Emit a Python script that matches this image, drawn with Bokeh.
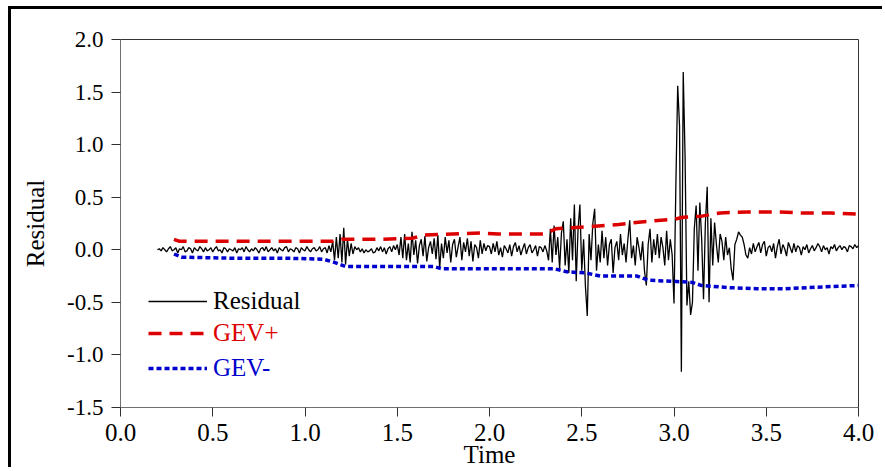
import numpy as np
from bokeh.plotting import figure
from bokeh.models import Legend, LegendItem, FixedTicker, Range1d
from bokeh.embed import file_html
from bokeh.resources import INLINE

# ---------------- data ----------------
res_start, res_end = 0.20, 4.00
residual = [
    0.00, 0.01, -0.01, 0.02, 0.00, -0.02, 0.01, 0.03, -0.01, 0.00,     # 0.20
    0.02, -0.03, 0.01, 0.00, 0.03, -0.02, -0.01, 0.02, 0.01, -0.03,    # 0.30
    0.02, 0.00, -0.01, 0.03, 0.01, -0.02, 0.02, -0.01, 0.00, 0.02,     # 0.40
    -0.02, 0.01, 0.03, -0.01, 0.00, -0.03, 0.02, 0.01, -0.02, 0.01,    # 0.50
    0.00, -0.01, 0.02, -0.03, 0.01, 0.00, 0.02, -0.02, 0.03, 0.00,     # 0.60
    -0.02, 0.01, -0.01, 0.02, 0.00, -0.03, 0.01, 0.02, -0.01, 0.03,    # 0.70
    -0.02, 0.00, 0.02, -0.01, 0.01, -0.03, 0.02, 0.00, -0.01, 0.02,    # 0.80
    0.03, -0.02, 0.01, 0.00, -0.02, 0.02, 0.01, -0.03, 0.02, 0.00,     # 0.90
    -0.01, 0.03, 0.00, -0.02, 0.01, 0.02, -0.01, 0.00, 0.03, -0.02,    # 1.00
    0.01, 0.02, -0.03, 0.04, -0.02, 0.08, -0.10, 0.12, -0.08, 0.15,    # 1.10
    -0.12, 0.21, -0.14, 0.10, -0.06, 0.06, -0.04, 0.03, 0.00, 0.02,    # 1.20
    -0.02, 0.01, -0.03, 0.00, -0.02, -0.01, 0.01, -0.03, -0.02, 0.02,  # 1.30
    -0.01, 0.03, -0.02, 0.02, -0.04, 0.01, 0.03, -0.02, 0.04, 0.00,    # 1.40
    0.05, -0.05, 0.12, -0.08, 0.15, -0.10, 0.06, -0.12, 0.17, -0.05,   # 1.50
    0.09, -0.13, 0.04, 0.10, -0.06, 0.13, -0.11, 0.02, 0.08, -0.04,    # 1.60
    0.11, -0.09, 0.14, -0.17, 0.06, -0.08, 0.12, -0.03, 0.09, -0.12,   # 1.70
    0.05, 0.10, -0.07, 0.03, 0.12, -0.10, 0.07, -0.02, 0.11, -0.06,    # 1.80
    0.08, -0.11, 0.05, 0.02, -0.08, 0.09, -0.04, 0.06, -0.01, 0.04,    # 1.90
    0.03, -0.04, 0.06, -0.02, 0.08, -0.05, 0.02, -0.07, 0.04, 0.01,    # 2.00
    -0.03, 0.05, -0.06, 0.03, 0.07, -0.02, 0.04, -0.05, 0.01, 0.06,    # 2.10
    -0.04, 0.02, 0.05, -0.03, 0.00, 0.04, -0.06, 0.03, 0.02, -0.02,    # 2.20
    0.04, -0.01, -0.10, 0.20, -0.12, 0.23, -0.05, 0.12, -0.18, 0.16,   # 2.30
    0.27, -0.15, 0.10, -0.22, 0.30, -0.10, 0.43, -0.30, 0.20, 0.43,    # 2.40
    -0.20, 0.10, -0.35, -0.63, 0.15, -0.10, 0.25, 0.39, -0.20, 0.05,   # 2.50
    -0.12, 0.18, -0.08, 0.12, -0.15, 0.05, 0.10, -0.22, 0.02, 0.08,    # 2.60
    -0.10, 0.15, -0.05, 0.06, -0.12, 0.10, 0.28, -0.08, 0.04, -0.15,   # 2.70
    0.12, 0.02, -0.10, 0.08, -0.20, -0.34, 0.05, 0.20, -0.12, 0.10,    # 2.80
    -0.05, 0.15, -0.08, 0.12, 0.02, -0.15, 0.18, -0.10, 0.10, -0.05,   # 2.90
    -0.51, 0.60, 1.56, 1.18, -1.16, 1.69, 0.89, -0.53, -0.30, -0.62,   # 3.00
    -0.50, 0.20, 0.42, -0.20, 0.45, 0.10, -0.47, 0.25, 0.60, -0.50,    # 3.10
    0.30, -0.15, 0.26, 0.05, -0.12, 0.15, 0.08, -0.10, 0.12, -0.05,    # 3.20
    0.02, -0.18, -0.29, 0.05, 0.10, 0.17, 0.14, 0.12, 0.05, -0.05,     # 3.30
    -0.08, 0.02, -0.04, 0.06, -0.02, 0.03, 0.07, -0.03, 0.05, 0.08,    # 3.40
    -0.06, 0.02, 0.04, -0.02, 0.06, -0.08, 0.03, 0.10, -0.04, 0.05,    # 3.50
    0.01, -0.06, 0.07, 0.02, -0.03, 0.06, -0.02, 0.04, 0.02, -0.05,    # 3.60
    0.03, 0.00, 0.05, -0.03, 0.01, 0.04, -0.01, 0.02, 0.06, 0.03,      # 3.70
    -0.02, 0.04, 0.00, 0.02, -0.04, 0.03, 0.01, 0.05, -0.01, 0.02,     # 3.80
    0.04, 0.00, 0.03, 0.02, -0.02, 0.04, 0.03, 0.01, 0.05, 0.02,       # 3.90
    0.04,                                                              # 4.00
]

gev_plus_time = [0.29, 0.32, 0.60, 0.90, 1.15, 1.20, 1.40, 1.58, 1.65, 1.80,
                 1.95, 2.05, 2.30, 2.36, 2.45, 2.55, 2.70, 2.85, 3.00, 3.05,
                 3.15, 3.25, 3.40, 3.55, 3.70, 3.85, 4.00]
gev_plus = [0.10, 0.08, 0.08, 0.08, 0.08, 0.10, 0.10, 0.11, 0.14, 0.15,
            0.16, 0.15, 0.15, 0.20, 0.21, 0.22, 0.24, 0.27, 0.29, 0.31,
            0.32, 0.35, 0.36, 0.36, 0.35, 0.35, 0.34]

gev_minus_time = [0.29, 0.33, 0.60, 0.90, 1.10, 1.16, 1.22, 1.40, 1.70, 1.74,
                  2.00, 2.35, 2.42, 2.52, 2.60, 2.80, 2.86, 3.00, 3.10, 3.15,
                  3.30, 3.45, 3.60, 3.72, 3.85, 4.00]
gev_minus = [-0.04, -0.07, -0.08, -0.08, -0.09, -0.12, -0.16, -0.16, -0.16, -0.18,
             -0.18, -0.18, -0.21, -0.22, -0.25, -0.25, -0.29, -0.30, -0.31, -0.34,
             -0.36, -0.37, -0.37, -0.36, -0.35, -0.34]

x_ticks = [0.0, 0.5, 1.0, 1.5, 2.0, 2.5, 3.0, 3.5, 4.0]
x_tick_labels = ["0.0", "0.5", "1.0", "1.5", "2.0", "2.5", "3.0", "3.5", "4.0"]
y_ticks = [-1.5, -1.0, -0.5, 0.0, 0.5, 1.0, 1.5, 2.0]
y_tick_labels = ["-1.5", "-1.0", "-0.5", "0.0", "0.5", "1.0", "1.5", "2.0"]

series_names = ["Residual", "GEV+", "GEV-"]

res_time = np.linspace(res_start, res_end, len(residual))

# ---------------- figure ----------------
FONT = "Liberation Serif"

p = figure(width=874, height=461,
           x_range=Range1d(0.0, 4.0), y_range=Range1d(-1.5, 2.0),
           output_backend="svg", toolbar_location=None,
           min_border_left=109, min_border_right=27,
           min_border_top=30, min_border_bottom=61)
p.styles = {"border-top": "3px solid black", "border-left": "3px solid black",
            "margin-top": "6px", "margin-left": "8px"}

p.background_fill_color = "white"
p.border_fill_color = "white"
p.outline_line_color = "#333333"
p.outline_line_width = 1
p.xgrid.visible = False
p.ygrid.visible = False

for ax in (p.xaxis[0], p.yaxis[0]):
    ax.axis_line_color = "#707070"
    ax.axis_line_width = 1
    ax.major_tick_line_color = "#303030"
    ax.major_tick_out = 9
    ax.major_tick_in = 0
    ax.minor_tick_line_color = None
    ax.major_label_text_font = FONT
    ax.axis_label_text_font = FONT
    ax.axis_label_text_font_style = "normal"
    ax.axis_label_text_font_size = "25px"
    ax.major_label_text_color = "black"
    ax.axis_label_text_color = "black"

p.xaxis.ticker = FixedTicker(ticks=x_ticks)
p.xaxis.major_label_overrides = dict(zip(x_ticks, x_tick_labels))
p.xaxis.major_label_text_font = FONT
p.xaxis.major_label_text_font_size = "25px"
p.xaxis.major_label_standoff = 7
p.xaxis.axis_label = "Time"
p.xaxis.axis_label_standoff = -3

p.yaxis.ticker = FixedTicker(ticks=y_ticks)
p.yaxis.major_label_overrides = dict(zip(y_ticks, y_tick_labels))
p.yaxis.major_label_text_font = FONT
p.yaxis.major_label_text_font_size = "23px"
p.yaxis.major_label_standoff = 8
p.yaxis.axis_label = "Residual"
p.yaxis.axis_label_standoff = 15

r_res = p.line(res_time, residual, line_color="black", line_width=1.3)
r_gp = p.line(gev_plus_time, gev_plus, line_color="#dd0000", line_width=3.5,
              line_dash="13 8")
r_gm = p.line(gev_minus_time, gev_minus, line_color="#0000cc", line_width=3.5,
              line_dash="5 3")

legend_specs = [
    (series_names[0], r_res, "black", 91),
    (series_names[1], r_gp, "#dd0000", 59),
    (series_names[2], r_gm, "#0000cc", 24),
]
for name, rend, col, ypos in legend_specs:
    leg = Legend(items=[LegendItem(label=name, renderers=[rend])],
                 location=(28, ypos))
    leg.glyph_width = 59
    leg.glyph_height = 30
    leg.label_height = 30
    leg.label_standoff = 6
    leg.padding = 0
    leg.margin = 0
    leg.spacing = 0
    leg.border_line_alpha = 0
    leg.background_fill_alpha = 0
    leg.label_text_font = FONT
    leg.label_text_font_size = "25px"
    leg.label_text_color = col
    p.add_layout(leg)

open("out.html", "w").write(file_html(p, INLINE))
